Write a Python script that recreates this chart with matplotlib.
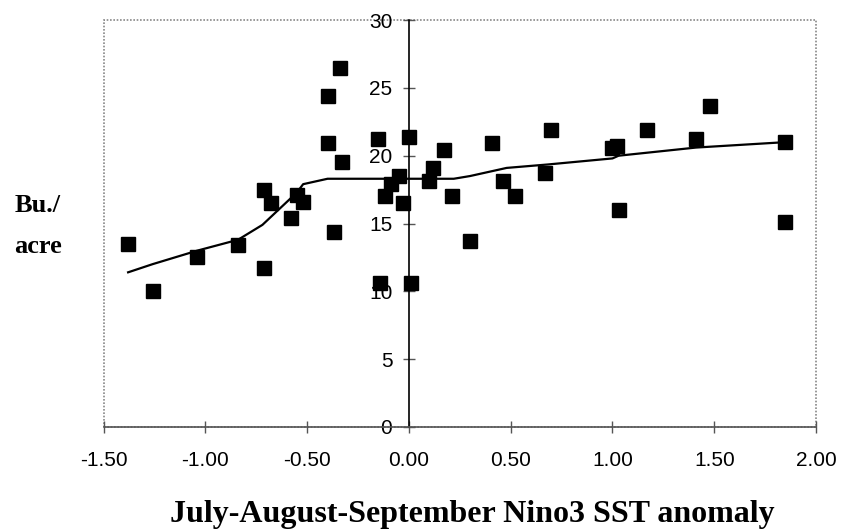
import matplotlib.pyplot as plt
from matplotlib.patches import Rectangle

# SST anomaly vs yield (Bu./acre)
sst = [-1.38, -1.26, -1.04, -0.84, -0.71, -0.71, -0.68, -0.58, -0.55, -0.52,
       -0.40, -0.40, -0.34, -0.33, -0.37, -0.15, -0.14, -0.12, -0.09, -0.05,
       -0.03, 0.00, 0.01, 0.10, 0.12, 0.17, 0.21, 0.30, 0.41, 0.46,
       0.52, 0.67, 0.70, 1.00, 1.02, 1.03, 1.17, 1.41, 1.48, 1.85, 1.85]
yld = [13.5, 10.0, 12.5, 13.4, 11.7, 17.5, 16.5, 15.4, 17.1, 16.6,
       24.4, 20.9, 26.5, 19.5, 14.4, 21.2, 10.6, 17.0, 17.9, 18.5,
       16.5, 21.4, 10.6, 18.1, 19.1, 20.4, 17.0, 13.7, 20.9, 18.1,
       17.0, 18.7, 21.9, 20.6, 20.7, 16.0, 21.9, 21.2, 23.7, 21.0, 15.1]

# smoothed fit
fit_x = [-1.38, -1.26, -1.04, -0.84, -0.72, -0.55, -0.52, -0.40, 0.10, 0.22,
         0.30, 0.48, 0.68, 1.00, 1.03, 1.41, 1.85]
fit_y = [11.4, 12.0, 13.0, 13.8, 14.9, 17.3, 17.9, 18.3, 18.3, 18.3,
         18.5, 19.1, 19.35, 19.8, 20.0, 20.6, 21.0]

xticks = [-1.5, -1.0, -0.5, 0.0, 0.5, 1.0, 1.5, 2.0]
yticks = [0, 5, 10, 15, 20, 25, 30]

fig = plt.figure(figsize=(8.43, 5.29), dpi=100)
ax = fig.add_axes([0.123, 0.193, 0.845, 0.769])

ax.plot(fit_x, fit_y, color='black', lw=1.6, zorder=2)
ax.plot(sst, yld, 's', color='black', markersize=9.5, zorder=3)

ax.set_xlim(-1.5, 2.0)
ax.set_ylim(0, 30)

# dotted frame
for s in ['top', 'right']:
    ax.spines[s].set_visible(False)
ax.spines['bottom'].set_color('#555555')
ax.spines['bottom'].set_linewidth(1.2)
ax.add_patch(Rectangle((0, 0), 1, 1, transform=ax.transAxes, fill=False,
                       edgecolor='#888888', lw=1.2, ls=(0, (1, 1)), clip_on=False))

# y axis through x = 0
ax.spines['left'].set_position(('data', 0))
ax.spines['left'].set_color('black')
ax.spines['left'].set_linewidth(1.2)

ax.set_xticks(xticks)
ax.set_xticklabels([f'{t:.2f}' for t in xticks], fontsize=15, family='Liberation Sans')
ax.set_yticks(yticks)
ax.set_yticklabels([str(t) for t in yticks], fontsize=15, family='Liberation Sans')
ax.tick_params(axis='x', direction='inout', length=8, width=1, color='#555555', pad=13.5)
ax.tick_params(axis='y', direction='inout', length=9, width=1, color='#555555', pad=7.5)

fig.text(0.56, 0.013, 'July-August-September Nino3 SST anomaly', ha='center',
         va='baseline', fontsize=23, fontweight='bold', family='Liberation Serif')
fig.text(0.017, 0.599, 'Bu./', ha='left', va='baseline', fontsize=19,
         fontweight='bold', family='Liberation Serif')
fig.text(0.017, 0.522, 'acre', ha='left', va='baseline', fontsize=19,
         fontweight='bold', family='Liberation Serif')

fig.savefig('out.png', dpi=100)
